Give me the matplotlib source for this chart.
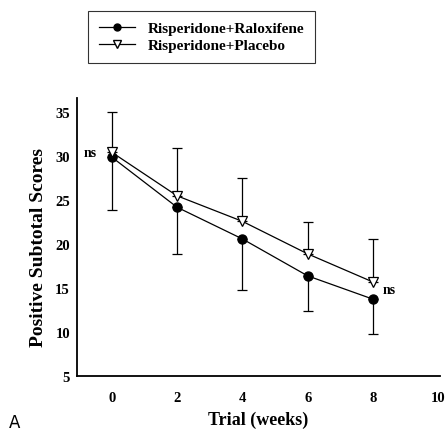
import matplotlib
matplotlib.use("Agg")
import matplotlib.pyplot as plt
from matplotlib.lines import Line2D

weeks = [0, 2, 4, 6, 8]
raloxifene = [29.9, 24.2, 20.6, 16.4, 13.75]
raloxifene_err_low = [6.0, 5.3, 5.8, 4.0, 3.95]
placebo = [30.45, 25.5, 22.6, 18.9, 15.7]
placebo_err_up = [4.55, 5.4, 4.9, 3.6, 4.9]
xticks = [0, 2, 4, 6, 8, 10]
yticks = [5, 10, 15, 20, 25, 30, 35]

serif = ["Liberation Serif", "DejaVu Serif"]
fig = plt.figure(figsize=(4.47, 4.39), dpi=100)
ax = fig.add_axes([0.172, 0.141, 0.812, 0.633])

ax.errorbar(weeks, placebo, yerr=[[0]*5, placebo_err_up], fmt='none', ecolor='black',
            elinewidth=0.9, capsize=3.5, capthick=0.9)
ax.errorbar(weeks, raloxifene, yerr=[raloxifene_err_low, [0]*5], fmt='none', ecolor='black',
            elinewidth=0.9, capsize=3.5, capthick=0.9)
ax.plot(weeks, raloxifene, '-', color='black', lw=0.9, marker='o', ms=6.5,
        mfc='black', mec='black', zorder=3)
ax.plot(weeks, placebo, '-', color='black', lw=0.9, marker='v', ms=7.5,
        mfc='white', mec='black', mew=0.9, zorder=4)

ax.set_xlim(-1.07, 10.05)
ax.set_ylim(5, 36.6)
ax.set_xticks(xticks)
ax.set_yticks(yticks)
ax.tick_params(axis='y', length=0, pad=5)
ax.tick_params(axis='x', length=0, pad=11)
for lab in ax.get_xticklabels() + ax.get_yticklabels():
    lab.set_fontfamily(serif)
    lab.set_fontweight('bold')
    lab.set_fontsize(10.5)
ax.spines['top'].set_visible(False)
ax.spines['right'].set_visible(False)
ax.spines['left'].set_linewidth(1.3)
ax.spines['bottom'].set_linewidth(1.3)

ax.set_xlabel("Trial (weeks)", family=serif, fontweight='bold', fontsize=13)
ax.set_ylabel("Positive Subtotal Scores", family=serif, fontweight='bold', fontsize=14)
ax.xaxis.set_label_coords(0.5, -0.126)
ax.yaxis.set_label_coords(-0.083, 0.468)

ax.text(-0.45, 30.45, "ns", family=serif, fontweight='bold', fontsize=10, ha='right', va='center')
ax.text(8.3, 14.8, "ns", family=serif, fontweight='bold', fontsize=10, ha='left', va='center')

handles = [Line2D([], [], color='black', lw=0.9, marker='o', ms=5, mfc='black'),
           Line2D([], [], color='black', lw=0.9, marker='v', ms=6, mfc='white')]
leg = fig.legend(handles, ["Risperidone+Raloxifene", "Risperidone+Placebo"],
                 loc='upper left', bbox_to_anchor=(0.197, 0.973), frameon=True,
                 fancybox=False, edgecolor='black', handlelength=2.4,
                 prop={'family': serif, 'weight': 'bold', 'size': 11},
                 borderpad=0.7, labelspacing=0.2, handletextpad=0.8,
                 borderaxespad=0)
leg.get_frame().set_linewidth(0.8)

fig.text(0.02, 0.015, "A", fontsize=12, ha='left', va='bottom')

fig.savefig("out.png", dpi=100)
